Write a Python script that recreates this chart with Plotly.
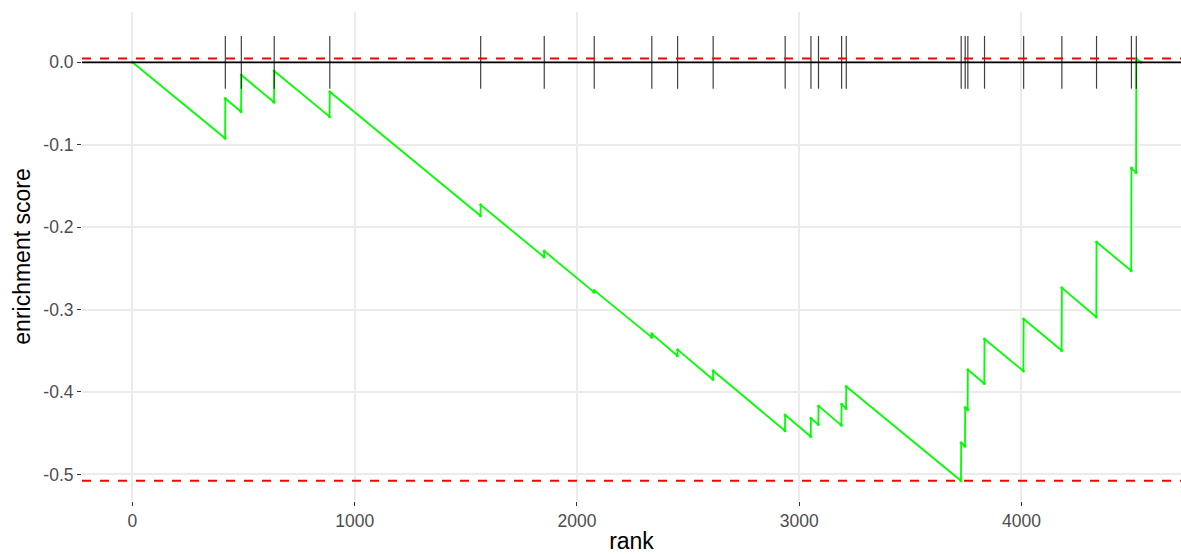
import plotly.graph_objects as go

# Ranked gene list size and positions of pathway genes in it
n_genes = 4537
hit_ranks = [418, 490, 638, 888, 1567, 1853, 2078, 2337, 2453, 2613, 2937, 3053,
             3087, 3191, 3212, 3729, 3747, 3759, 3834, 4010, 4182, 4338, 4495, 4517]

# Running enrichment score just before and just after each hit
es_bottom = [-0.0922, -0.0600, -0.0485, -0.0660, -0.1862, -0.2362, -0.2789, -0.3335,
             -0.3560, -0.3848, -0.4470, -0.4540, -0.4394, -0.4405, -0.4200, -0.5078,
             -0.4660, -0.4217, -0.3897, -0.3746, -0.3497, -0.3090, -0.2530, -0.1338]
es_top = [-0.0440, -0.0155, -0.0106, -0.0358, -0.1730, -0.2290, -0.2768, -0.3295,
          -0.3487, -0.3743, -0.4279, -0.4320, -0.4169, -0.4150, -0.3934, -0.4616,
          -0.4190, -0.3731, -0.3358, -0.3114, -0.2737, -0.2180, -0.1283, 0.0045]

y_tick_vals = [0.0, -0.1, -0.2, -0.3, -0.4, -0.5]
y_tick_text = ["0.0", "-0.1", "-0.2", "-0.3", "-0.4", "-0.5"]
x_tick_vals = [0, 1000, 2000, 3000, 4000]
x_tick_text = ["0", "1000", "2000", "3000", "4000"]

# Walk curve: start at 0, step down to each hit, jump up, return to 0 at the end
curve_x = [0]
curve_y = [0.0]
for r, b, t in zip(hit_ranks, es_bottom, es_top):
    curve_x += [r - 1, r]
    curve_y += [b, t]
curve_x.append(n_genes + 1)
curve_y.append(0.0)

max_es = max(es_top)
min_es = min(es_bottom)
half = (max_es - min_es) / 16

# Gene ticks as one segmented trace
tick_x, tick_y = [], []
for r in hit_ranks:
    tick_x += [r, r, None]
    tick_y += [-half, half, None]

fig = go.Figure()
fig.add_trace(go.Scatter(
    x=curve_x, y=curve_y, mode="lines+markers",
    line=dict(color="#00ff00", width=1.8),
    marker=dict(color="#00ff00", size=3),
    hoverinfo="skip", showlegend=False))
fig.add_trace(go.Scatter(
    x=tick_x, y=tick_y, mode="lines",
    line=dict(color="rgba(0,0,0,0.75)", width=1.2),
    hoverinfo="skip", showlegend=False))

for yv in (max_es, min_es):
    fig.add_shape(type="line", xref="x domain", yref="y", x0=0, x1=1, y0=yv, y1=yv,
                  line=dict(color="red", width=2, dash="9px,9px"), layer="above")
fig.add_shape(type="line", xref="x domain", yref="y", x0=0, x1=1, y0=0, y1=0,
              line=dict(color="black", width=1.7), layer="above")

x_lo = -0.05 * n_genes
x_hi = x_lo + (1181 - 82) / 0.22225
span = (max_es + half) - min_es
pad = 0.045 * span
y_lo = min_es - pad
y_hi = max_es + half + pad

fig.update_layout(
    width=1181, height=554,
    margin=dict(l=82, r=0, t=12, b=53),
    paper_bgcolor="white", plot_bgcolor="white",
    font=dict(family="Liberation Sans, Arial, sans-serif"),
    xaxis=dict(
        range=[x_lo, x_hi], tickvals=x_tick_vals, ticktext=x_tick_text,
        showgrid=True, gridcolor="#ebebeb", gridwidth=1.5, zeroline=False,
        ticks="outside", ticklen=4, tickcolor="#333333", tickwidth=1,
        tickfont=dict(size=17.5, color="#4d4d4d"),
        title=dict(text="rank", font=dict(size=23, color="black"), standoff=3),
        showline=False),
    yaxis=dict(
        range=[y_lo, y_hi], tickvals=y_tick_vals, ticktext=y_tick_text,
        showgrid=True, gridcolor="#ebebeb", gridwidth=1.5, zeroline=False,
        ticks="outside", ticklen=4, tickcolor="#333333", tickwidth=1,
        tickfont=dict(size=17.5, color="#4d4d4d"),
        title=dict(text="enrichment score", font=dict(size=23, color="black"), standoff=6),
        showline=False),
)

fig.write_html("out.html")
